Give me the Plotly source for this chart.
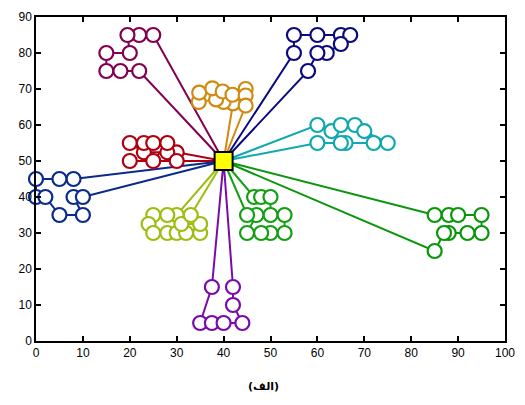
import plotly.graph_objects as go

depot_x = [40]
depot_y = [50]

# routes (customer nodes in visiting order)
r_maroon_x = [25, 22, 19.5, 20, 15, 15, 18, 22]
r_maroon_y = [85, 85, 85, 80, 80, 75, 75, 75]

r_orange_x = [42, 40, 38.4, 34.7, 34.8, 37.6, 39.8, 41.9, 44.7, 44.7, 44.7]
r_orange_y = [66, 66.4, 67.1, 66.4, 69, 70.2, 69.3, 68.4, 70, 68.2, 65.4]

r_red_x = [30, 28, 23, 20, 23, 25, 28, 25, 20, 30]
r_red_y = [52.4, 52.4, 52.4, 55, 55, 55, 55, 50, 50, 50]

r_navy_x = [8, 5, 0, 0, 2, 5, 10, 8, 10]
r_navy_y = [45, 45, 45, 40, 40, 35, 35, 40, 40]

r_blue_x = [55, 55, 60, 65, 67, 65, 62, 60, 58]
r_blue_y = [80, 85, 85, 85, 85, 82.5, 80, 80, 75]

r_cyan_x = [60, 63, 65, 68, 70, 75, 72, 66, 65, 60]
r_cyan_y = [60, 58.3, 60, 60, 58.3, 55, 55, 55, 55, 55]

r_green_x = [85, 88, 90, 95, 95, 92, 88, 87, 85]
r_green_y = [35, 35, 35, 35, 30, 30, 30, 30, 25]

r_lgreen_x = [46.5, 48, 50, 50, 53, 53, 50, 48, 45, 47, 45]
r_lgreen_y = [40, 40, 40, 35, 35, 30, 30, 30, 30, 35, 35]

r_yellow_x = [30, 28, 25, 24, 25, 28, 30, 32, 35, 35, 31, 33]
r_yellow_y = [35, 35, 35, 32.5, 30, 30, 30, 30, 30, 32.5, 32.5, 35]

r_purple_x = [37.5, 35, 37.5, 40, 44, 42, 42]
r_purple_y = [15, 5, 5, 5, 5, 10, 15]

routes = [
    (r_maroon_x, r_maroon_y, "#82004F"),
    (r_orange_x, r_orange_y, "#D08A10"),
    (r_red_x, r_red_y, "#B00010"),
    (r_navy_x, r_navy_y, "#0A2A8C"),
    (r_blue_x, r_blue_y, "#0A0A80"),
    (r_cyan_x, r_cyan_y, "#10A8B0"),
    (r_green_x, r_green_y, "#0A960A"),
    (r_lgreen_x, r_lgreen_y, "#12A012"),
    (r_yellow_x, r_yellow_y, "#9CBE10"),
    (r_purple_x, r_purple_y, "#7A0AAA"),
]

fig = go.Figure()
for xs, ys, c in routes:
    fig.add_trace(go.Scatter(x=depot_x + xs + depot_x, y=depot_y + ys + depot_y,
                             mode="lines", line=dict(color=c, width=2),
                             hoverinfo="skip", showlegend=False))
for xs, ys, c in routes:
    fig.add_trace(go.Scatter(x=xs, y=ys, mode="markers", cliponaxis=False,
                             marker=dict(symbol="circle", size=14, color="white",
                                         line=dict(color=c, width=2.2)),
                             showlegend=False))
fig.add_trace(go.Scatter(x=depot_x, y=depot_y, mode="markers", cliponaxis=False,
                         marker=dict(symbol="square", size=18, color="#FFFF00",
                                     line=dict(color="black", width=2)),
                         showlegend=False))

axis_common = dict(showgrid=False, zeroline=False, showline=True, linecolor="black",
                   linewidth=1.5, mirror="ticks", ticks="inside", ticklen=5,
                   tickcolor="black", tickwidth=1.5,
                   tickfont=dict(family="Liberation Sans, Arial", size=12, color="black"))

fig.update_xaxes(range=[0, 100], dtick=10, **axis_common)
fig.update_yaxes(range=[0, 90], dtick=10, **axis_common)

fig.add_annotation(text="<b>(الف)</b>", xref="paper", yref="paper", x=0.485, y=-0.139,
                   showarrow=False, yanchor="middle",
                   font=dict(family="DejaVu Sans", size=11, color="black"))

fig.update_layout(width=525, height=405, margin=dict(l=36, r=18, t=10, b=64),
                  plot_bgcolor="white", paper_bgcolor="white")

fig.write_html("out.html")
